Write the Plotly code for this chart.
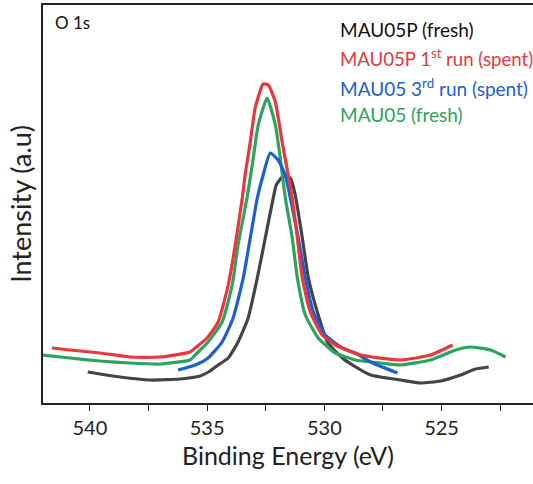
import plotly.graph_objects as go

# Binding energy (eV) and intensity (a.u.)
be_red = [541.62, 540.85, 539.57, 538.29, 537.01, 535.73, 535.51, 535.00, 534.53, 534.10, 533.80, 533.50, 533.38,
          533.16, 532.95, 532.61, 532.39, 532.09, 531.80, 531.54, 531.37, 531.15, 530.94, 530.60, 530.09, 529.53,
          528.46, 526.75, 525.47, 524.53]
i_red = [55, 53, 50, 46, 46, 51, 55, 65, 81, 118, 158, 205, 228,
         261, 295, 319, 318, 301, 261, 228, 205, 165, 125, 91, 68, 58,
         48, 43, 48, 58]

be_green = [542.01, 540.85, 539.57, 538.29, 537.01, 535.73, 535.51, 534.96, 534.36, 533.93, 533.68, 533.29, 533.03,
            532.82, 532.44, 532.09, 531.88, 531.67, 531.37, 531.15, 530.81, 530.26, 529.53, 528.68, 527.61, 526.75,
            525.47, 524.40, 523.76, 522.91, 522.27]
i_green = [48, 45, 42, 40, 39, 43, 48, 61, 81, 118, 158, 206, 245,
           278, 305, 278, 245, 206, 165, 125, 88, 65, 50, 43, 40, 38,
           43, 53, 56, 53, 46]

be_blue = [536.24, 535.51, 534.96, 534.36, 533.89, 533.46, 533.16, 532.86, 532.61, 532.31, 531.97, 531.67, 531.45,
           531.11, 530.81, 530.47, 529.96, 529.23, 528.68, 528.03, 526.88]
i_blue = [33, 38, 45, 61, 85, 125, 165, 205, 228, 250, 243, 228, 205,
          165, 125, 91, 68, 55, 50, 41, 30]

be_black = [540.09, 538.72, 537.44, 536.15, 535.30, 534.87, 534.53, 534.10, 533.68, 533.25, 532.86, 532.52, 532.18,
            532.05, 531.75, 531.45, 531.24, 530.94, 530.68, 530.30, 529.87, 529.23, 528.80, 528.03, 526.75, 525.90,
            525.04, 524.19, 523.55, 522.99]
i_black = [31, 26, 23, 24, 27, 32, 38, 45, 61, 85, 125, 165, 205,
           218, 227, 225, 208, 165, 125, 91, 61, 45, 38, 28, 23, 20,
           22, 28, 34, 36]

x_ticks = [540, 535, 530, 525]

FONT = "Lato"
C_BLACK = "#444444"
C_RED = "#e8383d"
C_BLUE = "#1a5fd6"
C_GREEN = "#2ea35c"

fig = go.Figure()
for be, inten, col in [(be_black, i_black, C_BLACK), (be_green, i_green, C_GREEN),
                       (be_blue, i_blue, C_BLUE), (be_red, i_red, C_RED)]:
    fig.add_trace(go.Scatter(x=be, y=inten, mode="lines", line=dict(color=col, width=3.2, shape="spline", smoothing=0.5),
                             showlegend=False, hoverinfo="skip"))

fig.update_layout(
    width=533, height=484,
    margin=dict(l=43, r=0, t=5, b=81),
    paper_bgcolor="white", plot_bgcolor="white",
    font=dict(family=FONT, color="#222222"),
    xaxis=dict(range=[542.0, 521.1], tickvals=x_ticks, ticktext=[str(t) for t in x_ticks],
               ticks="outside", ticklen=6, tickwidth=1.2, tickcolor="#222",
               minor=dict(ticks="outside", ticklen=6, tickwidth=1.2, tickcolor="#222", dtick=2.5, tick0=540),
               showline=True, linecolor="#222", linewidth=1.5, mirror=True,
               showgrid=False, zeroline=False, tickfont=dict(size=20, family=FONT, color="#222"),
               title=dict(text="Binding Energy (eV)", font=dict(size=25, family=FONT, color="#222"), standoff=10)),
    yaxis=dict(range=[0, 398], showticklabels=False, ticks="", showgrid=False, zeroline=False,
               showline=True, linecolor="#222", linewidth=1.5,
               title=dict(text="Intensity (a.u)", font=dict(size=27, family=FONT, color="#222"), standoff=2)),
)

labels = [("MAU05P (fresh)", "#111111", 29, 19),
          ("MAU05P 1<sup>st</sup> run (spent)", C_RED, 57, 18.6),
          ("MAU05 3<sup>rd</sup> run (spent)", C_BLUE, 87, 19),
          ("MAU05 (fresh)", C_GREEN, 115, 19)]
for txt, col, ypx, fs in labels:
    fig.add_annotation(text=txt, xref="paper", yref="paper", x=(338 - 43) / 490, y=(403 - ypx) / 398,
                       xanchor="left", yanchor="middle", showarrow=False,
                       font=dict(size=fs, family=FONT, color=col))
fig.add_annotation(text="O 1s", xref="paper", yref="paper", x=(53 - 43) / 490, y=(403 - 22) / 398,
                   xanchor="left", yanchor="middle", showarrow=False, font=dict(size=17, family=FONT, color="#111"))

fig.write_html("out.html")
